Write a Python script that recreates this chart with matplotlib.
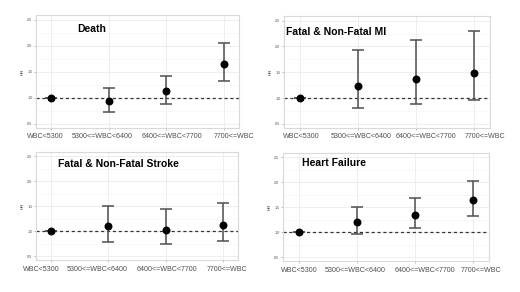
import matplotlib
matplotlib.use("Agg")
import matplotlib.pyplot as plt
import matplotlib.transforms as mtransforms
from matplotlib.ticker import MultipleLocator

plt.rcParams['font.family'] = ['Liberation Sans', 'DejaVu Sans']

categories = ["WBC<5300", "5300<=WBC<6400", "6400<=WBC<7700", "7700<=WBC"]

death_hr = [1.0, 0.94, 1.13, 1.65]
death_lo = [1.0, 0.73, 0.89, 1.33]
death_hi = [1.0, 1.19, 1.42, 2.06]

mi_hr = [1.0, 1.24, 1.37, 1.49]
mi_lo = [1.0, 0.81, 0.88, 0.96]
mi_hi = [1.0, 1.94, 2.13, 2.29]

stroke_hr = [1.0, 1.10, 1.03, 1.12]
stroke_lo = [1.0, 0.79, 0.74, 0.81]
stroke_hi = [1.0, 1.51, 1.45, 1.56]

hf_hr = [1.0, 1.21, 1.35, 1.64]
hf_lo = [1.0, 0.97, 1.08, 1.32]
hf_hi = [1.0, 1.51, 1.68, 2.03]

titles = ["Death", "Fatal & Non-Fatal MI", "Fatal & Non-Fatal Stroke", "Heart Failure"]
panels = [(death_hr, death_lo, death_hi),
          (mi_hr, mi_lo, mi_hi),
          (stroke_hr, stroke_lo, stroke_hi),
          (hf_hr, hf_lo, hf_hi)]

# axes rectangles in pixels: left, top, right, bottom
W, H = 520, 292
boxes = [(36, 15, 239, 128), (284, 16, 490, 128),
         (36, 152, 238, 260), (283, 153, 489, 261)]
title_pos = [(0.205, 0.875), (0.01, 0.855), (0.11, 0.89), (0.09, 0.905)]
# the tick labels in the original sit a little off their ticks (pixels)
label_shift = [(-6, -7, 6, 10), (2, 3, 10, 11), (-10, -11, 1, 4), (1, -2, 10, 8)]
label_pad = [2, 2, 3, 3]

fig = plt.figure(figsize=(W / 100, H / 100), dpi=100)

for i, (hr, lo, hi) in enumerate(panels):
    l, t, r, b = boxes[i]
    ax = fig.add_axes([l / W, 1 - b / H, (r - l) / W, (b - t) / H])
    x = list(range(len(categories)))
    yerr = [[h - a for h, a in zip(hr, lo)], [c - h for h, c in zip(hr, hi)]]

    ax.axhline(1.0, color="#333333", lw=0.9, ls=(0, (2.5, 2.2)), zorder=2)
    ax.errorbar(x, hr, yerr=yerr, fmt="none", ecolor="#555555",
                elinewidth=1.15, capsize=4.3, capthick=1.15, zorder=3)
    ax.plot(x, hr, "o", color="black", ms=4.7, zorder=4)

    ax.set_xlim(-0.27, 3.27)
    ax.set_ylim(0.42, 2.59)
    ax.set_xticks(x)
    ax.set_xticklabels(categories, fontsize=5.1, color="#4d4d4d")
    ax.yaxis.set_major_locator(MultipleLocator(0.5))
    ax.yaxis.set_minor_locator(MultipleLocator(0.25))
    ax.tick_params(axis="y", labelsize=2.7, labelcolor="#4d4d4d", length=1.5,
                   width=0.4, color="#888888", pad=1)
    ax.tick_params(axis="y", which="minor", length=0)
    ax.tick_params(axis="x", length=1.5, width=0.4, color="#888888", pad=label_pad[i])
    ax.set_ylabel("HR", fontsize=3.2, labelpad=2, color="#333333")

    for lab, dx in zip(ax.get_xticklabels(), label_shift[i]):
        off = mtransforms.ScaledTranslation(dx / 100, 0, fig.dpi_scale_trans)
        lab.set_transform(lab.get_transform() + off)

    ax.grid(True, which="major", color="#ebebeb", lw=0.6)
    ax.grid(True, which="minor", axis="y", color="#f4f4f4", lw=0.4)
    ax.set_axisbelow(True)
    for s in ax.spines.values():
        s.set_color("#d9d9d9")
        s.set_linewidth(0.8)

    tx, ty = title_pos[i]
    ax.text(tx, ty, titles[i], transform=ax.transAxes, fontsize=7.5,
            fontweight="bold", ha="left", va="center", color="black")

fig.savefig("out.png", dpi=100, facecolor="white")
